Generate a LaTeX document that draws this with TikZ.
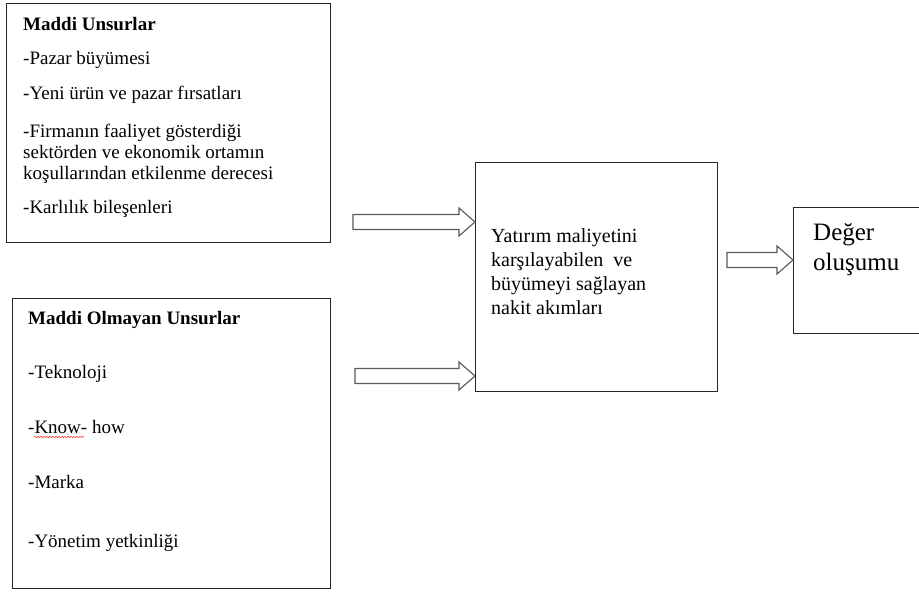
\documentclass[tikz,border=0pt]{standalone}
\usepackage{fontspec}
\setmainfont{Liberation Serif}
\usepackage{tikz}
\usetikzlibrary{calc,decorations.pathmorphing}

\newcommand{\kalinok}[2]{%
  \draw[okcizgi] let \p1=(#1), \p2=(#2) in
    (\x1,\y1+7.5pt) -- (\x2-16pt,\y1+7.5pt) -- (\x2-16pt,\y1+14pt) -- (\x2,\y1)
    -- (\x2-16pt,\y1-14pt) -- (\x2-16pt,\y1-7.5pt) -- (\x1,\y1-7.5pt) -- cycle;}

\begin{document}
\begin{tikzpicture}[x=1pt,y=-1pt,
   kutu/.style={draw=black!85,line width=1.2pt,anchor=north west,inner sep=0pt},
   yazi/.style={anchor=base west,inner sep=0pt,font=\fontsize{19}{21}\selectfont},
   baslik/.style={yazi,font=\fontsize{19}{21}\selectfont\bfseries},
   orta/.style={yazi,font=\fontsize{20}{24}\selectfont},
   buyuk/.style={yazi,font=\fontsize{25}{30}\selectfont},
   okcizgi/.style={draw=black!65,fill=white,line width=1.1pt,line join=miter}]
  \useasboundingbox (0,0) rectangle (919,592);
  % kutular
  \node[kutu,minimum width=324,minimum height=239] (maddi) at (6,3) {};
  \node[kutu,minimum width=318,minimum height=290] (olmayan) at (12,298) {};
  \node[kutu,minimum width=242,minimum height=229] (nakit) at (475,162) {};
  \node[kutu,minimum width=145,minimum height=126] (deger) at (793,207) {};
  % maddi unsurlar
  \node[baslik] (m0) at (23,30) {Maddi Unsurlar};
  \node[yazi] (m1) at (23,64) {-Pazar büyümesi};
  \node[yazi] (m2) at (23,99) {-Yeni ürün ve pazar fırsatları};
  \node[yazi] (m3) at (23,137) {-Firmanın faaliyet gösterdiği};
  \node[yazi] (m4) at (23,158) {sektörden ve ekonomik ortamın};
  \node[yazi] (m5) at (23,179) {koşullarından etkilenme derecesi};
  \node[yazi] (m6) at (23,213) {-Karlılık bileşenleri};
  % maddi olmayan unsurlar
  \node[baslik] (o0) at (28,324) {Maddi Olmayan Unsurlar};
  \node[yazi] (o1) at (28,378) {-Teknoloji};
  \node[yazi] (o2) at (28,433) {-Know- how};
  \node[yazi] (o3) at (28,488) {-Marka};
  \node[yazi] (o4) at (28,547) {-Yönetim yetkinliği};
  \draw[red!80,line width=0.5pt,decorate,decoration={snake,amplitude=0.8pt,segment length=3pt}]
    ($(o2.base west)+(6,4)$) -- ($(o2.base west)+(56,4)$);
  % orta kutu
  \node[orta] (n1) at (491,242) {Yatırım maliyetini};
  \node[orta] (n2) at (491,266) {karşılayabilen \ ve};
  \node[orta] (n3) at (491,290) {büyümeyi sağlayan};
  \node[orta] (n4) at (491,314) {nakit akımları};
  % sag kutu
  \node[buyuk] (d1) at (813,240) {Değer};
  \node[buyuk] (d2) at (813,270) {oluşumu};
  % oklar
  \coordinate (g1) at (353,222);
  \coordinate (g2) at (355,376);
  \coordinate (g3) at (727,260);
  \kalinok{g1}{g1 -| nakit.west}
  \kalinok{g2}{g2 -| nakit.west}
  \kalinok{g3}{g3 -| deger.west}
\end{tikzpicture}
\end{document}
